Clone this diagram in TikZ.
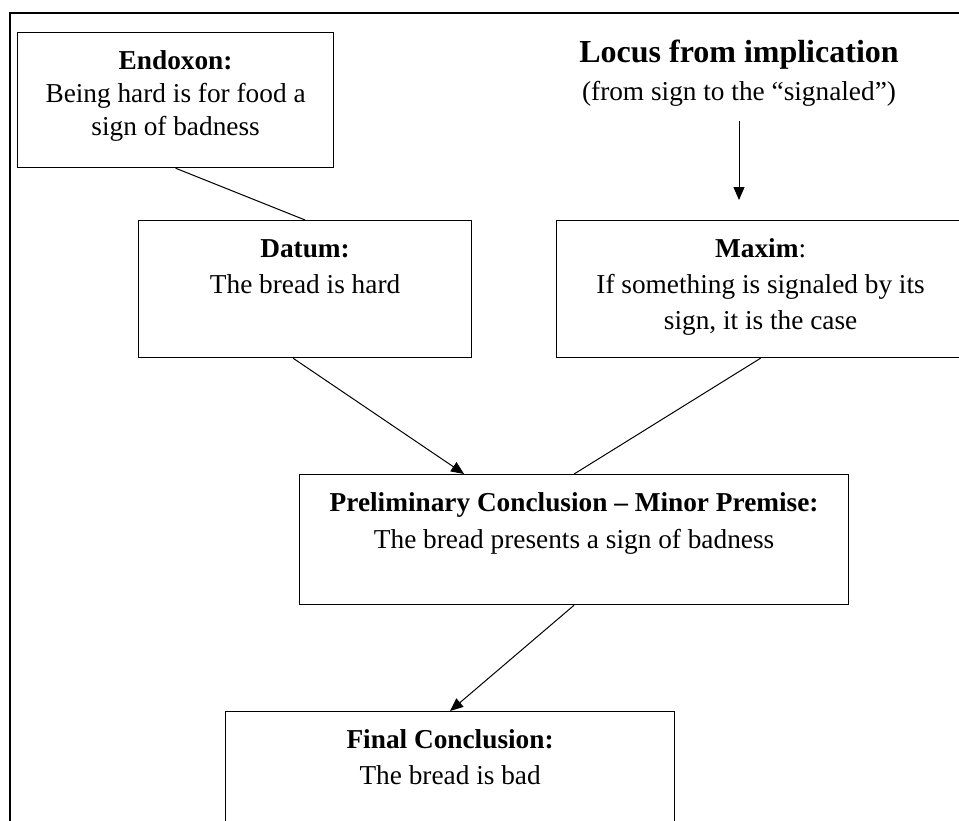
\documentclass[tikz,border=0pt]{standalone}
\usepackage{fontspec}
\setmainfont{Liberation Serif}
\usetikzlibrary{arrows.meta}
\newcommand\mybox[4]{\parbox[t][#2][t]{#1}{\centering\fontsize{27.3pt}{#3}\selectfont\rule{0pt}{37pt}#4\par}}
\begin{document}
\begin{tikzpicture}[x=1pt,y=-1pt,
  box/.style={draw, line width=1.2pt, inner sep=0pt, anchor=north west},
  conn/.style={line width=1pt},
  arr/.style={conn, -{Triangle[length=13pt,width=11pt]}},
  frame/.style={line width=2pt, line join=miter}]
\useasboundingbox (0,0) rectangle (959,820);
\clip (0,0) rectangle (959,820);
\draw[frame] (10,830) -- (10,13) -- (975,13);
\node[box] (endoxon) at (17,32) {\mybox{316pt}{135pt}{33pt}{\textbf{Endoxon:}\\Being hard is for food a\\sign of badness}};
\node[box] (datum) at (138,220) {\mybox{333pt}{137pt}{36pt}{\textbf{Datum:}\\The bread is hard}};
\node[box] (maxim) at (556,220) {\mybox{408pt}{137pt}{36pt}{\textbf{Maxim}:\\If something is signaled by its\\sign, it is the case}};
\node[box] (prelim) at (299,474) {\mybox{549pt}{130pt}{37pt}{\textbf{Preliminary Conclusion – Minor Premise:}\\The bread presents a sign of badness}};
\node[box] (final) at (225,711) {\mybox{449pt}{130pt}{36pt}{\textbf{Final Conclusion:}\\The bread is bad}};
\node[inner sep=0pt, anchor=north] (locus) at (739,32) {\parbox[t]{360pt}{\centering\fontsize{27.3pt}{38pt}\selectfont\rule{0pt}{30pt}{\bfseries\fontsize{32pt}{38pt}\selectfont Locus from implication}\\(from sign to the “signaled”)\par}};
\draw[conn] (endoxon.south) -- (datum.north);
\draw[arr] ([xshift=-12pt]datum.south) -- ([xshift=-110pt]prelim.north);
\draw[conn] (maxim.south) -- (prelim.north);
\draw[arr] (prelim.south) -- (final.north);
\draw[arr] ([yshift=-15pt]locus.south) -- ([yshift=20pt]locus.south |- maxim.north);
\end{tikzpicture}
\end{document}
